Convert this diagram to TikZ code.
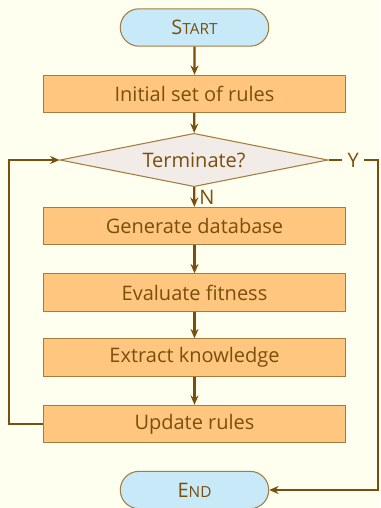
\documentclass[tikz,border=0pt]{standalone}
\usepackage{fontspec}
\setmainfont{Open Sans}
\usepackage{tikz}
\usetikzlibrary{shapes.geometric, shapes.misc, arrows.meta, positioning, calc}

\definecolor{paper}{HTML}{FFFFF0}
\definecolor{ink}{HTML}{7A4E0C}
\definecolor{edge}{HTML}{A67C3E}
\definecolor{boxfill}{HTML}{FFC680}
\definecolor{capfill}{HTML}{C8EAF8}
\definecolor{testfill}{HTML}{F2ECE8}

\newcommand{\smallcap}[2]{#1{\fontsize{11.5}{13}\selectfont #2}}

\tikzset{
  every node/.style={font=\fontsize{15}{18}\selectfont, text=ink},
  process/.style={rectangle, draw=edge, fill=boxfill, line width=0.8pt,
    minimum width=227pt, minimum height=28pt},
  terminal/.style={rounded rectangle, draw=edge, fill=capfill, line width=0.8pt,
    minimum width=118pt, minimum height=28pt},
  decision/.style={diamond, aspect=5.05, draw=edge, fill=testfill, line width=0.8pt,
    minimum width=201pt, minimum height=40pt, inner sep=0pt},
  flow/.style={draw=ink, line width=1.7pt, -{Stealth[length=7pt,width=6pt]}},
  tag/.style={fill=paper, inner sep=4pt}
}

\begin{document}
\begin{tikzpicture}[x=0.75pt, y=-0.75pt]
    \useasboundingbox[fill=paper] (0,0) rectangle (380,508);
    % start / end capsules
    \node[terminal] (start) at (194.5,27.5) {\smallcap{S}{TART}};
    \node[terminal] (stop) at (194.5,490) {\smallcap{E}{ND}};
    % main steps
    \node[process] (init) at (194.5,94) {Initial set of rules};
    \node[decision] (term) at (194,160) {Terminate?};
    \node[process] (gen) at (194.5,226) {Generate database};
    \node[process] (eval) at (194.5,292.5) {Evaluate fitness};
    \node[process] (extr) at (194.5,357.5) {Extract knowledge};
    \node[process] (upd) at (194.5,424) {Update rules};
    \coordinate (corner) at (378,160);
    % arrows
    \draw[flow] (start) -- (init);
    \draw[flow] (init) -- (term);
    \draw[flow] (term) -- node[right, inner sep=3pt] {N} (gen);
    \draw[flow] (gen) -- (eval);
    \draw[flow] (eval) -- (extr);
    \draw[flow] (extr) -- (upd);
    \draw[flow] (upd.west) -- ++(-34,0) |- (term.west);
    \draw[flow] (term.east) -- node[tag] {Y} (corner) |- (stop.east);
\end{tikzpicture}
\end{document}
